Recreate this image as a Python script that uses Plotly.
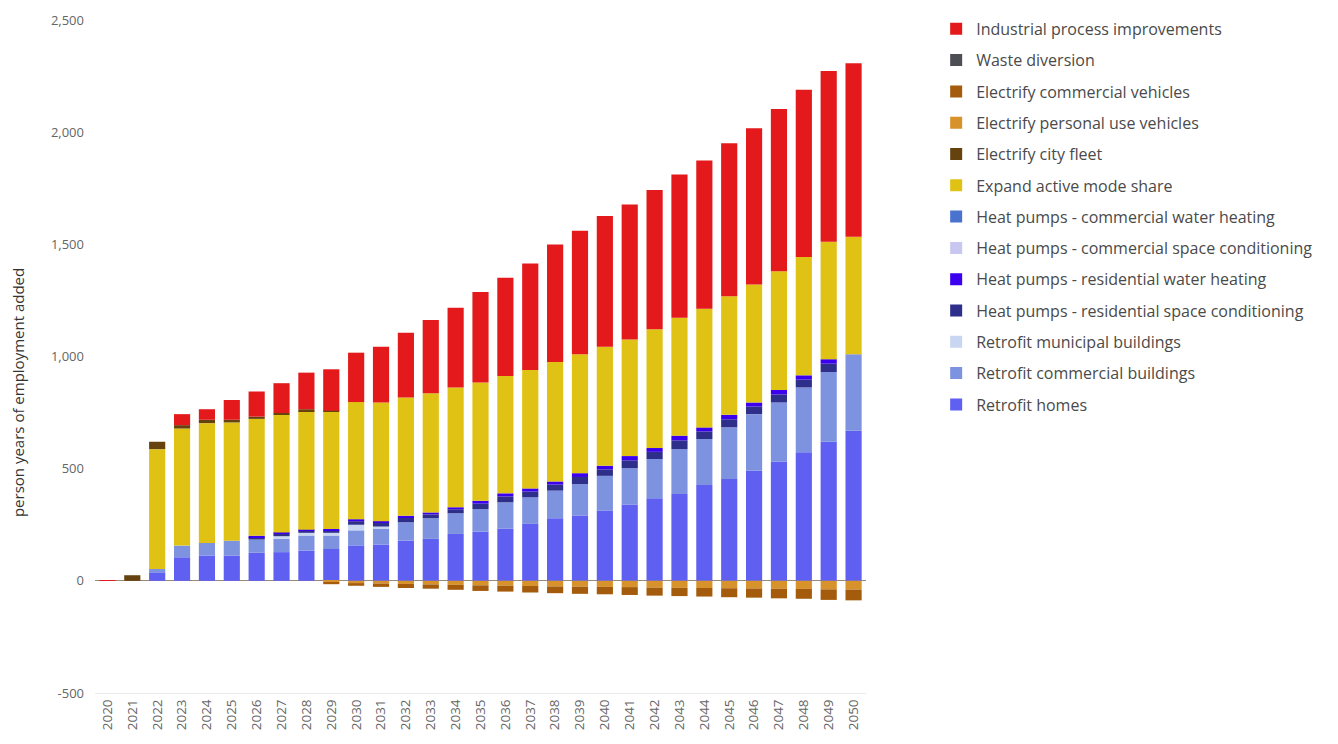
import plotly.graph_objects as go

years = [str(y) for y in range(2020, 2051)]

retrofit_homes = [0, 0, 38, 105, 113, 113, 125, 128, 135, 142, 158, 162, 179, 187, 209, 219, 232, 254, 279, 291, 313, 340, 368, 387, 427, 454, 491, 532, 573, 620, 669]
retrofit_commercial = [0, 0, 15, 52, 56, 66, 59, 59, 67, 60, 67, 72, 82, 92, 92, 101, 118, 118, 123, 140, 155, 162, 175, 200, 205, 230, 252, 263, 289, 311, 341]
retrofit_municipal = [0, 0, 0, 0, 0, 0, 0, 12, 12, 12, 25, 8, 0, 0, 0, 0, 0, 0, 0, 0, 0, 0, 0, 0, 0, 0, 0, 0, 0, 0, 0]
hp_res_space = [0, 0, 0, 0, 0, 0, 11, 11, 9, 11, 16, 16, 19, 17, 18, 24, 26, 26, 27, 32, 29, 35, 32, 39, 34, 36, 34, 36, 35, 37, 0]
hp_res_water = [0, 0, 0, 0, 0, 0, 6, 6, 5, 6, 9, 8, 10, 9, 9, 13, 14, 14, 14, 17, 16, 19, 17, 21, 18, 20, 18, 20, 19, 20, 0]
hp_com_space = [0] * 31
hp_com_water = [0] * 31
active_mode = [0, 0, 534, 522, 534, 527, 521, 524, 529, 522, 522, 529, 527, 531, 534, 527, 523, 528, 533, 530, 531, 520, 529, 526, 529, 529, 526, 529, 528, 523, 524]
city_fleet = [0, 25, 33, 15, 15, 12, 10, 8, 8, 5, 0, 0, 0, 0, 0, 0, 0, 0, 0, 0, 0, 0, 0, 0, 0, 0, 0, 0, 0, 0, 0]
personal_vehicles = [0, 0, 0, 0, 0, 0, 0, 0, 0, -7, -10, -12, -14, -16, -18, -20, -22, -23, -25, -26, -27, -28, -30, -31, -32, -33, -34, -35, -36, -38, -39]
commercial_vehicles = [0, 0, 0, 0, 0, 0, 0, 0, 0, -8, -12, -15, -18, -19, -22, -25, -26, -29, -30, -32, -33, -35, -36, -37, -38, -40, -41, -43, -44, -47, -48]
waste_diversion = [0] * 31
industrial = [3, 0, 0, 49, 47, 88, 112, 133, 163, 185, 220, 249, 289, 327, 355, 403, 438, 475, 523, 551, 582, 602, 621, 638, 661, 682, 697, 723, 745, 762, 773]

series = [
    ("Retrofit homes", retrofit_homes, "#5f5ff2"),
    ("Retrofit commercial buildings", retrofit_commercial, "#7d93df"),
    ("Retrofit municipal buildings", retrofit_municipal, "#c8d6f1"),
    ("Heat pumps - residential space conditioning", hp_res_space, "#2e2f8a"),
    ("Heat pumps - residential water heating", hp_res_water, "#3b00ee"),
    ("Heat pumps - commercial space conditioning", hp_com_space, "#c7c7f2"),
    ("Heat pumps - commercial water heating", hp_com_water, "#4a72cf"),
    ("Expand active mode share", active_mode, "#dfc214"),
    ("Electrify city fleet", city_fleet, "#65420e"),
    ("Electrify personal use vehicles", personal_vehicles, "#d8922c"),
    ("Electrify commercial vehicles", commercial_vehicles, "#a45c0c"),
    ("Waste diversion", waste_diversion, "#4d4f55"),
    ("Industrial process improvements", industrial, "#e3191b"),
]

y_tickvals = [-500, 0, 500, 1000, 1500, 2000, 2500]
y_ticktext = ["-500", "0", "500", "1,000", "1,500", "2,000", "2,500"]
y_title = "person years of employment added"

fig = go.Figure()
n = len(series)
for i, (name, vals, color) in enumerate(series):
    fig.add_trace(go.Bar(
        x=years, y=vals, name=name, marker_color=color,
        marker_line_width=0, legendgroup="g%d" % i,
        legendrank=100 + (n - i),
    ))

fig.add_annotation(
    text=y_title, textangle=-90,
    xref="paper", yref="paper", x=-0.1, y=0.447,
    xanchor="center", yanchor="middle", showarrow=False,
    font=dict(family="Open Sans", size=15, color="#333333"),
)

fig.update_layout(
    width=1338, height=744,
    barmode="relative",
    bargap=0.35,
    plot_bgcolor="white",
    paper_bgcolor="white",
    font=dict(family="Open Sans", color="#666666", size=12),
    margin=dict(l=95, r=472, t=20, b=51, autoexpand=False),
    showlegend=True,
    legend=dict(
        traceorder="grouped",
        tracegroupgap=7.5,
        maxheight=700,
        x=1.091, xanchor="left",
        y=1.012, yanchor="top",
        font=dict(family="Open Sans", size=16, color="#4a4a4a"),
        bgcolor="rgba(0,0,0,0)",
    ),
    xaxis=dict(
        type="category",
        tickangle=-90,
        showgrid=False,
        showline=True,
        linecolor="#ececec",
        ticks="",
        tickfont=dict(size=13.5, color="#666666"),
    ),
    yaxis=dict(
        range=[-500, 2500],
        tickvals=y_tickvals,
        ticktext=y_ticktext,
        showgrid=False,
        zeroline=True,
        zerolinecolor="#9a8a7a",
        zerolinewidth=1,
        ticks="",
        ticklabelstandoff=10,
        tickfont=dict(size=13, color="#666666"),
    ),
)

fig.write_html("out.html")
